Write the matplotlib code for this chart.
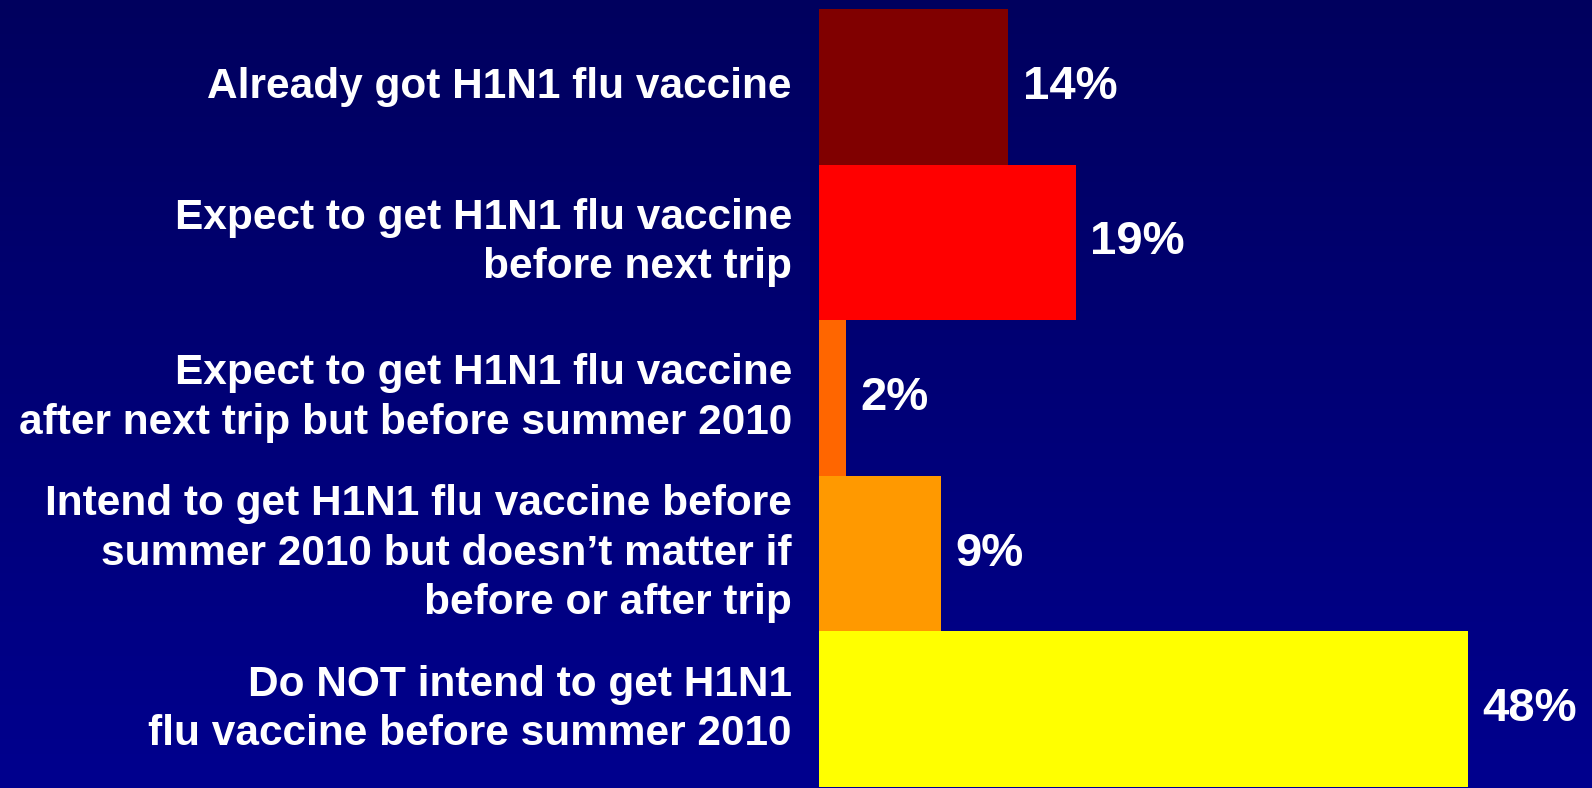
import numpy as np
import matplotlib
matplotlib.use("Agg")
import matplotlib.pyplot as plt
from matplotlib.colors import LinearSegmentedColormap

categories = [
    "Already got H1N1 flu vaccine",
    "Expect to get H1N1 flu vaccine\nbefore next trip",
    "Expect to get H1N1 flu vaccine\nafter next trip but before summer 2010",
    "Intend to get H1N1 flu vaccine before\nsummer 2010 but doesn\u2019t matter if\nbefore or after trip",
    "Do NOT intend to get H1N1\nflu vaccine before summer 2010",
]
values = [14, 19, 2, 9, 48]
value_labels = ["14%", "19%", "2%", "9%", "48%"]
bar_colors = ["#800000", "#FF0000", "#FF6600", "#FF9900", "#FFFF00"]

plt.rcParams['font.family'] = ['Liberation Sans', 'DejaVu Sans']

W, H, DPI = 1592, 788, 100
fig = plt.figure(figsize=(W / DPI, H / DPI), dpi=DPI)

# gradient background
bg = fig.add_axes([0, 0, 1, 1])
cmap = LinearSegmentedColormap.from_list("bg", ["#00005E", "#00008E"])
grad = np.linspace(0, 1, 256).reshape(-1, 1)
bg.imshow(grad, aspect='auto', cmap=cmap, extent=[0, 1, 1, 0])
bg.set_axis_off()

ax = fig.add_axes([0, 0, 1, 1])
ax.patch.set_alpha(0)
px_per_unit = 13.52
x0_px = 819
ax.set_xlim(-x0_px / px_per_unit, (W - x0_px) / px_per_unit)
bar_px = 155.6
top = -0.5 - 9 / bar_px
ax.set_ylim(top + H / bar_px, top)
ax.set_axis_off()

y = np.arange(len(values))
ax.barh(y, values, height=1.0, color=bar_colors, edgecolor='none')

for i, (cat, v, lab) in enumerate(zip(categories, values, value_labels)):
    ax.annotate(cat, xy=(0, i), xytext=(-19.5, 0), textcoords='offset points',
                ha='right', va='center', color='white', fontsize=30.5,
                fontweight='bold', linespacing=1.3, multialignment='right')
    ax.annotate(lab, xy=(v, i), xytext=(10.5, 0), textcoords='offset points',
                ha='left', va='center', color='white', fontsize=34,
                fontweight='bold')

fig.savefig("out.png", dpi=DPI)
